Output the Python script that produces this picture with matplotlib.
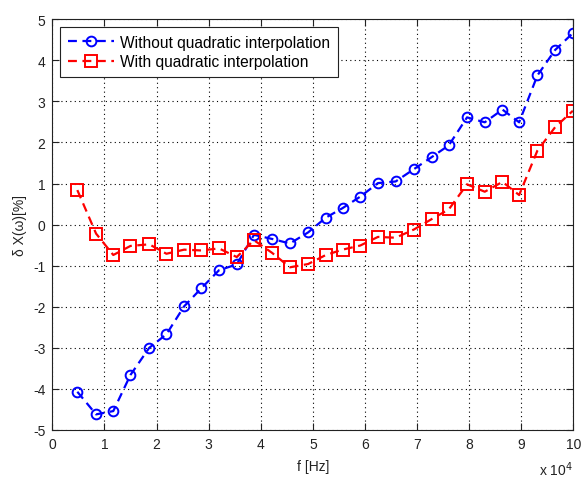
import matplotlib
matplotlib.use("Agg")
import matplotlib.pyplot as plt
import numpy as np

plt.rcParams['font.family'] = ['Liberation Sans', 'DejaVu Sans']
plt.rcParams['axes.unicode_minus'] = False

freq_hz = [4800, 8400, 11700, 15000, 18600, 21900, 25300, 28600, 32000, 35400,
           38700, 42200, 45600, 49100, 52500, 55700, 59100, 62500, 65900, 69400,
           72900, 76100, 79600, 83000, 86400, 89600, 93100, 96500, 99900]
without_interp = [-4.07, -4.62, -4.54, -3.66, -3.00, -2.67, -1.99, -1.55, -1.11, -0.97,
                  -0.25, -0.35, -0.46, -0.19, 0.17, 0.40, 0.68, 1.01, 1.05, 1.35,
                  1.65, 1.93, 2.61, 2.49, 2.80, 2.49, 3.63, 4.25, 4.66]
with_interp = [0.84, -0.22, -0.74, -0.52, -0.48, -0.71, -0.61, -0.63, -0.58, -0.79,
               -0.38, -0.69, -1.04, -0.96, -0.74, -0.61, -0.51, -0.30, -0.32, -0.12,
               0.14, 0.37, 0.98, 0.80, 1.04, 0.72, 1.80, 2.37, 2.77]
xtick_vals = [0, 10000, 20000, 30000, 40000, 50000, 60000, 70000, 80000, 90000, 100000]
xtick_labels = ['0', '1', '2', '3', '4', '5', '6', '7', '8', '9', '10']
ytick_vals = [-5, -4, -3, -2, -1, 0, 1, 2, 3, 4, 5]

fig = plt.figure(figsize=(5.82, 4.81), dpi=100)
ax = fig.add_axes([0.0899, 0.104, 0.8952, 0.854])

ax.plot(freq_hz, without_interp, color='#0000ff', linestyle=(0, (4, 2.5)), linewidth=1.6,
        marker='o', markersize=7, markerfacecolor='none', markeredgewidth=1.4,
        label='Without quadratic interpolation')
ax.plot(freq_hz, with_interp, color='#ff0000', linestyle=(0, (4, 2.5)), linewidth=1.6,
        marker='s', markersize=8, markerfacecolor='none', markeredgewidth=1.4,
        label='With quadratic interpolation')

ax.set_xlim(0, 100000)
ax.set_ylim(-5, 5)
ax.set_xticks(xtick_vals)
ax.set_xticklabels(xtick_labels)
ax.set_yticks(ytick_vals)
ax.tick_params(direction='in', top=True, right=True, length=5, width=0.8,
               labelsize=10, colors='#222222', pad=5)
ax.grid(True, linestyle=(0, (1, 3)), color='#000000', linewidth=0.8)
for s in ax.spines.values():
    s.set_color('#222222')
    s.set_linewidth(0.8)

ax.set_xlabel('f [Hz]', fontsize=10, color='#222222', labelpad=6)
ax.set_ylabel('δ X(ω)[%]', fontsize=10, color='#222222', labelpad=4)
ax.text(1.0, -0.072, r'x 10$^4$', transform=ax.transAxes, ha='right', va='top',
        fontsize=10, color='#222222')

leg = ax.legend(loc='upper left', bbox_to_anchor=(0.0148, 0.981), borderaxespad=0,
                fontsize=11.2, handlelength=3.0, fancybox=False, framealpha=1,
                edgecolor='#222222', borderpad=0.5, labelspacing=0.3, handletextpad=0.35)
leg.get_frame().set_linewidth(0.8)

fig.savefig('out.png', dpi=100)
